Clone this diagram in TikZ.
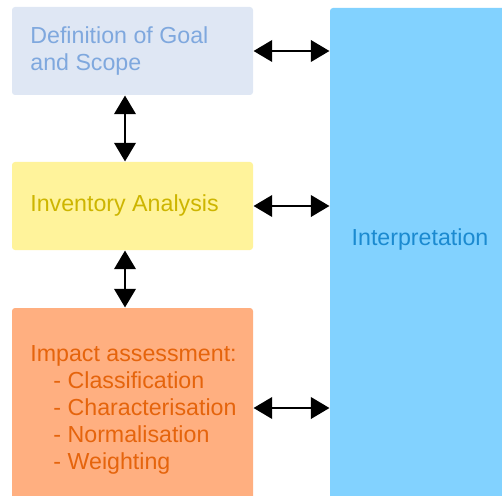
\documentclass[tikz,border=0pt]{standalone}
\usepackage{fontspec}
\setmainfont{Liberation Sans}
\usetikzlibrary{arrows.meta,calc}

\definecolor{goalfill}{HTML}{DFE7F4}
\definecolor{goaltext}{HTML}{7FA8DE}
\definecolor{invfill}{HTML}{FFF39B}
\definecolor{invtext}{HTML}{CDB500}
\definecolor{impfill}{HTML}{FFAF80}
\definecolor{imptext}{HTML}{E5640C}
\definecolor{interpfill}{HTML}{82D2FF}
\definecolor{interptext}{HTML}{1B8AD0}

\tikzset{every picture/.style={line width=0.75pt}}
\tikzset{
  stagebox/.style={rectangle, rounded corners=2.25pt, minimum width=180.75pt,
    text width=180.75pt, inner xsep=0pt, align=flush left,
    execute at begin node={\leftskip=13.8pt},
    font=\fontsize{17.4}{20.2}\selectfont},
  goalbox/.style={stagebox, fill=goalfill, text=goaltext, minimum height=66pt},
  invbox/.style={stagebox, fill=invfill, text=invtext, minimum height=66pt},
  impbox/.style={stagebox, fill=impfill, text=imptext, minimum height=153pt},
  interpbox/.style={rectangle, rounded corners=2.25pt, fill=interpfill,
    minimum width=142.5pt, minimum height=384pt},
  twoway/.style={line width=2.1pt,
    {Triangle[length=14pt,width=16pt]}-{Triangle[length=14pt,width=16pt]}}
}

\begin{document}
\begin{tikzpicture}[x=0.75pt,y=0.75pt,yscale=-1,xscale=1]

\useasboundingbox (0,0) rectangle (502,495);

% left column
\node [goalbox] (goal) at (132.5,51) {Definition of Goal\\and Scope};
\node [invbox] (inv) at (132.5,206) {Inventory Analysis};
\node [impbox] (imp) at (132.5,410) {Impact assessment:\\
  \hspace*{17.3pt}- Classification\\
  \hspace*{17.3pt}- Characterisation\\
  \hspace*{17.3pt}- Normalisation\\
  \hspace*{17.3pt}- Weighting};

% right column
\node [interpbox] (interp) at (425,264) {};
\node [text=interptext, font=\fontsize{17.4}{20.2}\selectfont] (interplabel) at (420,240) {Interpretation};

% arrows
\draw [twoway] ($(goal.south)+(-7.5,0)$) -- ($(inv.north)+(-7.5,0)$);
\draw [twoway] ($(inv.south)+(-7.5,0)$) -- ($(imp.north)+(-7.5,0)$);
\draw [twoway] (goal.east) -- (goal.east -| interp.west);
\draw [twoway] (inv.east) -- (inv.east -| interp.west);
\draw [twoway] ($(imp.east)+(0,-2)$) -- ($(imp.east -| interp.west)+(0,-2)$);

\end{tikzpicture}
\end{document}
